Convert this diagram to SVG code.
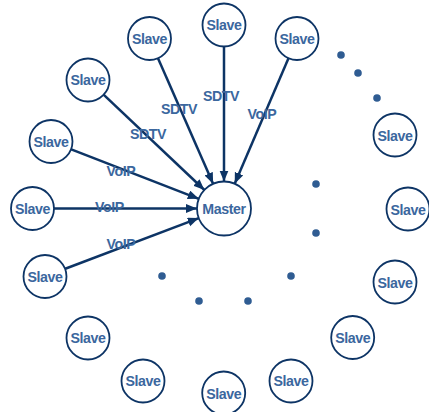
<svg xmlns="http://www.w3.org/2000/svg" width="429" height="412" viewBox="0 0 429 412">
<defs>
<style>
.n{fill:#fff;stroke:#0d3465;stroke-width:1.8}
.t{font-family:"Liberation Sans",Arial,sans-serif;font-weight:bold;font-size:14.2px;letter-spacing:-0.4px;fill:#3b679e;text-anchor:middle;dominant-baseline:central}
.c{stroke:#0d3465;stroke-width:2.5;fill:none;marker-end:url(#ah)}
.d{fill:#2f5c92}
</style>
<marker id="ah" markerUnits="userSpaceOnUse" markerWidth="12" markerHeight="10" refX="11" refY="4.5" orient="auto">
<path d="M0,0 L11,4.5 L0,9 Z" fill="#0d3465"/>
</marker>
</defs>
<g id="connectors">
<line class="c" x1="158" y1="58.2" x2="213.1" y2="183.8"/>
<line class="c" x1="224" y1="46" x2="224" y2="181.5"/>
<line class="c" x1="288.7" y1="57.8" x2="234.7" y2="183.7"/>
<line class="c" x1="103.3" y1="94.4" x2="204.4" y2="190"/>
<line class="c" x1="70.6" y1="149.1" x2="198.8" y2="198.8"/>
<line class="c" x1="53.5" y1="208.5" x2="197" y2="208.5"/>
<line class="c" x1="64.6" y1="269" x2="198.8" y2="218.1"/>
</g>
<g id="labels">
<text class="t" x="179" y="108.5">SDTV</text>
<text class="t" x="221" y="96">SDTV</text>
<text class="t" x="262" y="114">VoIP</text>
<text class="t" x="148" y="133.5">SDTV</text>
<text class="t" x="121" y="170.5">VoIP</text>
<text class="t" x="109.5" y="207">VoIP</text>
<text class="t" x="121" y="243.5">VoIP</text>
</g>
<g id="master"><circle class="n" cx="224" cy="208.5" r="27"/><text class="t" x="224" y="209">Master</text></g>
<g id="s1"><circle class="n" cx="149.5" cy="38.5" r="21.5"/><text class="t" x="149.5" y="38.5">Slave</text></g>
<g id="s2"><circle class="n" cx="224" cy="25" r="21.5"/><text class="t" x="224" y="25">Slave</text></g>
<g id="s3"><circle class="n" cx="297" cy="38.5" r="21.5"/><text class="t" x="297" y="38.5">Slave</text></g>
<g id="s4"><circle class="n" cx="88" cy="80" r="21.5"/><text class="t" x="88" y="80">Slave</text></g>
<g id="s5"><circle class="n" cx="51" cy="141.5" r="21.5"/><text class="t" x="51" y="141.5">Slave</text></g>
<g id="s6"><circle class="n" cx="32.5" cy="208.5" r="21.5"/><text class="t" x="32.5" y="209">Slave</text></g>
<g id="s7"><circle class="n" cx="45" cy="276.5" r="21.5"/><text class="t" x="45" y="276.5">Slave</text></g>
<g id="s8"><circle class="n" cx="88" cy="338" r="21.5"/><text class="t" x="88" y="338">Slave</text></g>
<g id="s9"><circle class="n" cx="143" cy="381" r="21.5"/><text class="t" x="143" y="381">Slave</text></g>
<g id="s10"><circle class="n" cx="223.7" cy="393" r="21.5"/><text class="t" x="223.7" y="393.5">Slave</text></g>
<g id="s11"><circle class="n" cx="291" cy="381" r="21.5"/><text class="t" x="291" y="381">Slave</text></g>
<g id="s12"><circle class="n" cx="352.7" cy="337.5" r="21.5"/><text class="t" x="352.7" y="338">Slave</text></g>
<g id="s13"><circle class="n" cx="395" cy="282" r="21.5"/><text class="t" x="395" y="283">Slave</text></g>
<g id="s14"><circle class="n" cx="408" cy="209" r="21.5"/><text class="t" x="408" y="210">Slave</text></g>
<g id="s15"><circle class="n" cx="395" cy="135" r="21.5"/><text class="t" x="395" y="135.5">Slave</text></g>
<g id="dots">
<circle class="d" cx="341" cy="55" r="3.8"/>
<circle class="d" cx="358" cy="73" r="3.8"/>
<circle class="d" cx="377" cy="98" r="3.8"/>
<circle class="d" cx="316" cy="184" r="3.8"/>
<circle class="d" cx="316" cy="233" r="3.8"/>
<circle class="d" cx="162" cy="276" r="3.8"/>
<circle class="d" cx="291" cy="276" r="3.8"/>
<circle class="d" cx="199" cy="301" r="3.8"/>
<circle class="d" cx="248" cy="301" r="3.8"/>
</g>
</svg>
